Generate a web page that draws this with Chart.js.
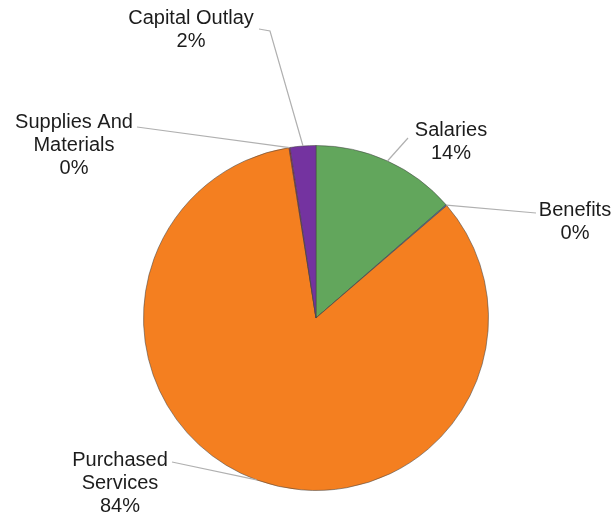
<!DOCTYPE html>
<html>
<head>
<meta charset="utf-8">
<script src="https://cdn.jsdelivr.net/npm/chart.js@4"></script>
<style>
  html, body { margin: 0; padding: 0; background: #fff; }
  #wrap { width: 614px; height: 513px; }
</style>
</head>
<body>
<div id="wrap"><canvas id="chart" width="614" height="513"></canvas></div>
<script>
// data
const categories = [["Salaries"], ["Benefits"], ["Purchased", "Services"], ["Supplies And", "Materials"], ["Capital Outlay"]];
const values = [13.6, 0.1, 83.8, 0.1, 2.4];
const colors = ["#62a65c", "#3f6fb5", "#f47f20", "#c8102e", "#7433a0"];

// label placement: text block centre and where the leader line leaves the text
const labelCenter = [[451, 130], [575, 210], [120, 460], [74, 122], [191, 18]];
const lineStart = [[[408, 138]], [[536, 213]], [[172, 462]], [[137, 127]], [[259, 29], [270, 31]]];

const leaderLabels = {
  id: "leaderLabels",
  afterDatasetsDraw(chart) {
    const ctx = chart.ctx;
    const meta = chart.getDatasetMeta(0);
    const total = values.reduce((a, b) => a + b, 0);
    ctx.save();
    meta.data.forEach((arc, i) => {
      const p = arc.getProps(["x", "y", "startAngle", "endAngle", "outerRadius"], true);
      const mid = (p.startAngle + p.endAngle) / 2;
      const ax = p.x + Math.cos(mid) * p.outerRadius;
      const ay = p.y + Math.sin(mid) * p.outerRadius;

      ctx.strokeStyle = "#b0b0b0";
      ctx.lineWidth = 1.2;
      ctx.beginPath();
      const pts = lineStart[i];
      ctx.moveTo(pts[0][0], pts[0][1]);
      for (let k = 1; k < pts.length; k++) ctx.lineTo(pts[k][0], pts[k][1]);
      ctx.lineTo(ax, ay);
      ctx.stroke();

      const lines = categories[i].concat([Math.round(values[i] / total * 100) + "%"]);
      ctx.fillStyle = "#1c1c1c";
      ctx.font = "20px 'Liberation Sans', Arial, sans-serif";
      ctx.textAlign = "center";
      ctx.textBaseline = "middle";
      const lh = 23;
      const [cx, cy] = labelCenter[i];
      lines.forEach((t, j) => ctx.fillText(t, cx, cy + j * lh));
    });
    ctx.restore();
  }
};

new Chart(document.getElementById("chart"), {
  type: "pie",
  data: {
    labels: categories.map(c => c.join(" ")),
    datasets: [{
      data: values,
      backgroundColor: colors,
      borderColor: "rgba(70,70,70,0.55)",
      borderWidth: 1
    }]
  },
  options: {
    responsive: false,
    animation: false,
    layout: { padding: { top: 145, bottom: 22, left: 143, right: 125 } },
    plugins: {
      legend: { display: false },
      tooltip: { enabled: false }
    }
  },
  plugins: [leaderLabels]
});
</script>
</body>
</html>
